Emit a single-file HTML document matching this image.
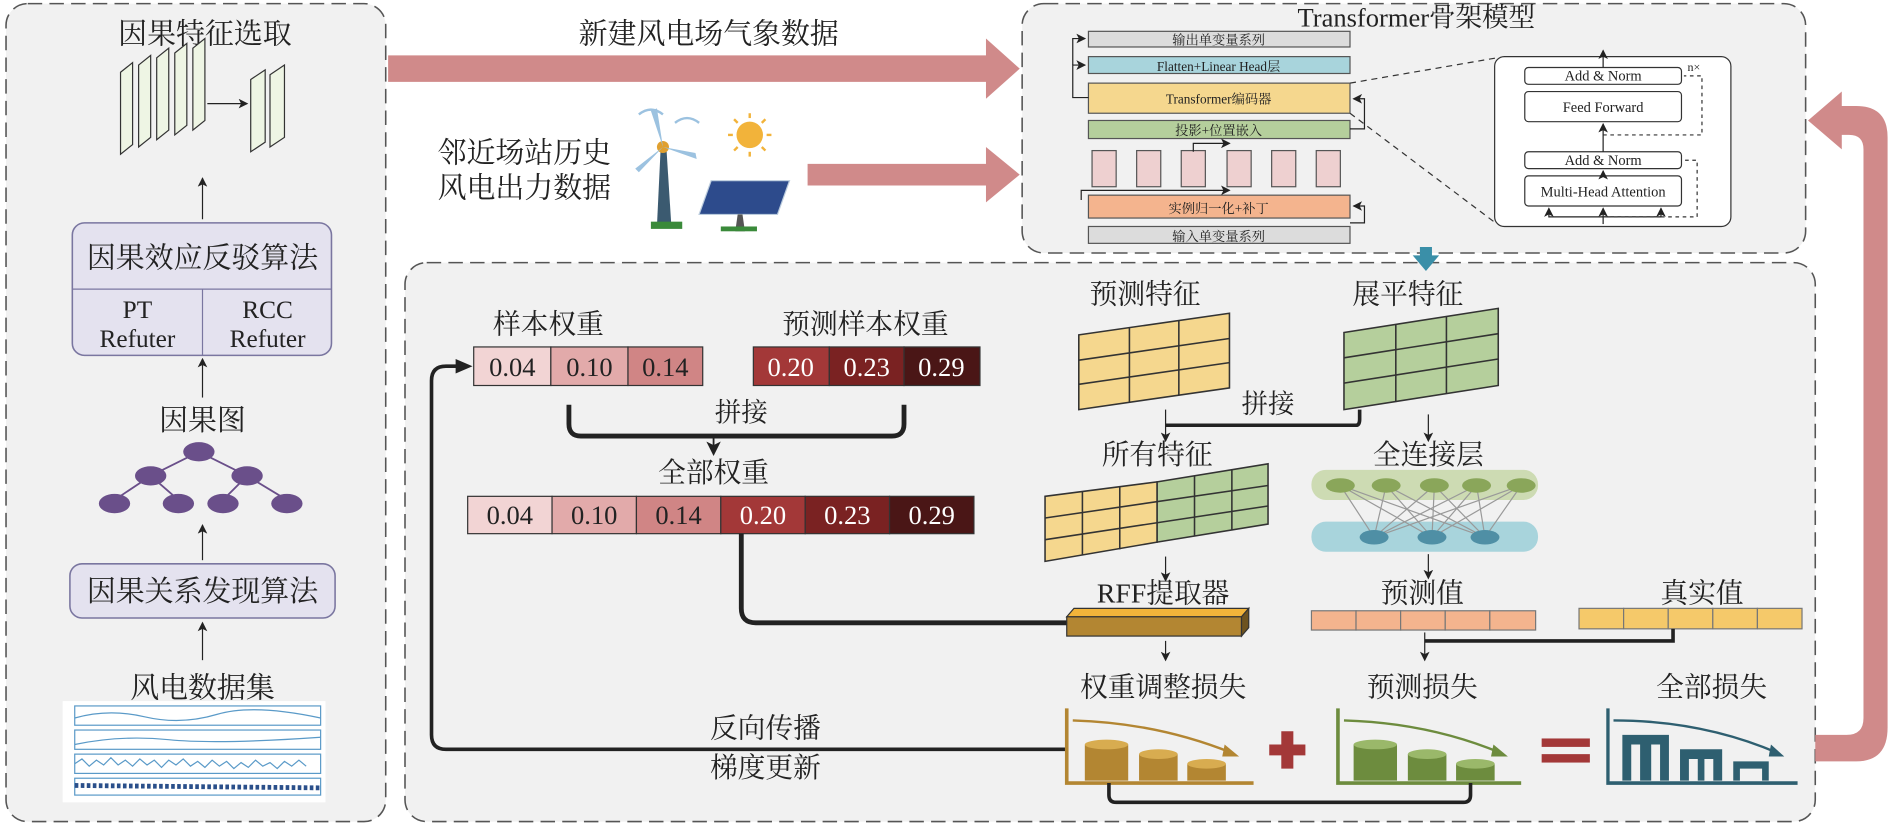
<!DOCTYPE html>
<html><head><meta charset="utf-8"><style>
body{margin:0;background:#fff}
svg{display:block}
text{font-family:"Liberation Serif","Noto Serif CJK SC","Noto Sans CJK SC",serif;fill:#222}
</style></head><body>
<svg width="1890" height="824" viewBox="0 0 1568 684" preserveAspectRatio="none" xmlns="http://www.w3.org/2000/svg">
<defs>
<marker id="a" markerWidth="8" markerHeight="8" refX="7" refY="4" orient="auto"><path d="M0,0 L8,4 L0,8 L2,4z" fill="#222"/></marker>
</defs>
<!-- panels -->
<rect x="5" y="3" width="315" height="679" rx="18" fill="#f1f1f1" stroke="#555" stroke-dasharray="12,6" stroke-width="1.3"/>
<rect x="848" y="3" width="650" height="207" rx="18" fill="#f1f1f1" stroke="#555" stroke-dasharray="12,6" stroke-width="1.3"/>
<rect x="336" y="218" width="1170" height="464" rx="18" fill="#f1f1f1" stroke="#555" stroke-dasharray="12,6" stroke-width="1.3"/>

<!-- pink arrows -->
<path d="M322,46 L818,46 L818,32 L846,57 L818,82 L818,68 L322,68z" fill="#d08a8a"/>
<path d="M670,136 L818,136 L818,122 L846,145 L818,168 L818,154 L670,154z" fill="#d08a8a"/>
<path d="M1506,610 L1532,610 Q1546,610 1546,596 L1546,124 Q1546,112 1534,112 L1528,112 L1528,124 L1500,100 L1528,76 L1528,88 L1540,88 Q1566,88 1566,114 L1566,604 Q1566,632 1540,632 L1506,632z" fill="#d08a8a"/>

<!-- left panel -->
<text x="170" y="36" font-size="24" text-anchor="middle">因果特征选取</text>
<g fill="#eef5e4" stroke="#333" stroke-width="1">
<path d="M100,60 L110,52 L110,120 L100,128z"/><path d="M115,54 L125,46 L125,114 L115,122z"/><path d="M130,48 L140,40 L140,108 L130,116z"/><path d="M145,44 L155,36 L155,104 L145,112z"/><path d="M160,40 L170,32 L170,100 L160,108z"/>
<path d="M208,66 L220,58 L220,118 L208,126z"/><path d="M224,62 L236,54 L236,114 L224,122z"/>
</g>
<line x1="172" y1="86" x2="205" y2="86" stroke="#222" marker-end="url(#a)"/>
<line x1="168" y1="182" x2="168" y2="148" stroke="#222" marker-end="url(#a)"/>
<rect x="60" y="185" width="215" height="110" rx="10" fill="#e4e2ef" stroke="#7a76a0" stroke-width="1.3"/>
<line x1="60" y1="240" x2="275" y2="240" stroke="#7a76a0"/><line x1="168" y1="240" x2="168" y2="295" stroke="#7a76a0"/>
<text x="168" y="222" font-size="24" text-anchor="middle">因果效应反驳算法</text>
<text x="114" y="264" font-size="21" text-anchor="middle">PT</text><text x="114" y="288" font-size="21" text-anchor="middle">Refuter</text>
<text x="222" y="264" font-size="21" text-anchor="middle">RCC</text><text x="222" y="288" font-size="21" text-anchor="middle">Refuter</text>
<line x1="168" y1="330" x2="168" y2="298" stroke="#222" marker-end="url(#a)"/>
<text x="168" y="357" font-size="24" text-anchor="middle">因果图</text>
<g stroke="#6a4f8a" stroke-width="1.5"><line x1="165" y1="375" x2="125" y2="395"/><line x1="165" y1="375" x2="205" y2="395"/><line x1="125" y1="395" x2="95" y2="415"/><line x1="125" y1="395" x2="148" y2="415"/><line x1="205" y1="395" x2="185" y2="415"/><line x1="205" y1="395" x2="238" y2="415"/></g>
<g fill="#6a4f8a"><ellipse cx="165" cy="375" rx="13" ry="8"/><ellipse cx="125" cy="395" rx="13" ry="8"/><ellipse cx="205" cy="395" rx="13" ry="8"/><ellipse cx="95" cy="418" rx="13" ry="8"/><ellipse cx="148" cy="418" rx="13" ry="8"/><ellipse cx="185" cy="418" rx="13" ry="8"/><ellipse cx="238" cy="418" rx="13" ry="8"/></g>
<line x1="168" y1="465" x2="168" y2="436" stroke="#222" marker-end="url(#a)"/>
<rect x="58" y="468" width="220" height="45" rx="10" fill="#e4e2ef" stroke="#7a76a0" stroke-width="1.3"/>
<text x="168" y="499" font-size="24" text-anchor="middle">因果关系发现算法</text>
<line x1="168" y1="548" x2="168" y2="517" stroke="#222" marker-end="url(#a)"/>
<text x="168" y="579" font-size="24" text-anchor="middle">风电数据集</text>
<rect x="52" y="582" width="218" height="84" fill="#fff"/>
<g fill="none" stroke="#5a9ac8" stroke-width="1"><rect x="62" y="586" width="204" height="16"/><rect x="62" y="606" width="204" height="16"/><rect x="62" y="626" width="204" height="16"/><rect x="62" y="646" width="204" height="14"/>
<path d="M62,596 Q90,588 120,595 T180,593 T266,596"/><path d="M62,618 Q100,610 140,614 T266,612"/><path d="M62,634 l6,-4 l6,6 l6,-5 l6,4 l6,-6 l6,6 l6,-4 l6,5 l6,-6 l6,5 l6,-4 l6,6 l6,-6 l6,4 l6,-5 l6,6 l6,-4 l6,5 l6,-6 l6,5 l6,-4 l6,6 l6,-5 l6,4 l6,-6 l6,5 l6,-3 l6,5 l6,-6 l6,4 l6,-5 l6,5"/></g>
<path d="M62,652 L266,654" stroke="#2a4f8a" stroke-width="4" stroke-dasharray="3,2"/>

<!-- middle texts -->
<text x="588" y="36" font-size="24" text-anchor="middle">新建风电场气象数据</text>
<text x="435" y="135" font-size="24" text-anchor="middle">邻近场站历史</text>
<text x="435" y="164" font-size="24" text-anchor="middle">风电出力数据</text>
<!-- turbine -->
<path d="M548,125 L545,188 L557,188 L553,125z" fill="#3b5a70"/>
<circle cx="550" cy="122" r="5" fill="#e0a030"/>
<path d="M550,122 L540,92 L545,90z M550,122 L578,132 L577,127z M550,122 L527,140 L530,143z" fill="#9cc2e0"/>
<path d="M530,95 q10,-8 20,0 M560,102 q10,-8 20,0" stroke="#9cc2e0" fill="none" stroke-width="2"/>
<rect x="540" y="184" width="26" height="6" fill="#3a8a3a"/>
<circle cx="622" cy="112" r="11" fill="#f2b33a"/>
<g stroke="#f2b33a" stroke-width="2"><line x1="622" y1="94" x2="622" y2="98"/><line x1="622" y1="126" x2="622" y2="130"/><line x1="604" y1="112" x2="608" y2="112"/><line x1="636" y1="112" x2="640" y2="112"/><line x1="609" y1="99" x2="612" y2="102"/><line x1="632" y1="122" x2="635" y2="125"/><line x1="635" y1="99" x2="632" y2="102"/><line x1="609" y1="125" x2="612" y2="122"/></g>
<path d="M590,150 L655,150 L645,178 L580,178z" fill="#2d4b8c" stroke="#bcd" stroke-width="1"/>
<path d="M612,178 L610,192 L618,192 L616,178z" fill="#555"/><rect x="598" y="188" width="30" height="4" fill="#3a8a3a"/>

<!-- transformer panel -->
<text x="1175" y="22" font-size="22" text-anchor="middle">Transformer骨架模型</text>
<g stroke="#555" stroke-width="1">
<rect x="903" y="26" width="217" height="13" fill="#dcdcdc"/>
<rect x="903" y="47" width="217" height="14" fill="#a8d4dc"/>
<rect x="903" y="69" width="217" height="25" fill="#f5d78e"/>
<rect x="903" y="100" width="217" height="15" fill="#b5cf9c"/>
<rect x="906" y="125" width="20" height="30" fill="#eed0d0"/><rect x="943" y="125" width="20" height="30" fill="#eed0d0"/><rect x="980" y="125" width="20" height="30" fill="#eed0d0"/><rect x="1018" y="125" width="20" height="30" fill="#eed0d0"/><rect x="1055" y="125" width="20" height="30" fill="#eed0d0"/><rect x="1092" y="125" width="20" height="30" fill="#eed0d0"/>
<rect x="903" y="162" width="217" height="19" fill="#f4b48e"/>
<rect x="903" y="188" width="217" height="14" fill="#dcdcdc"/>
</g>
<g font-size="11" text-anchor="middle"><text x="1011" y="37">输出单变量系列</text><text x="1011" y="59">Flatten+Linear Head层</text><text x="1011" y="86">Transformer编码器</text><text x="1011" y="112">投影+位置嵌入</text><text x="1011" y="177">实例归一化+补丁</text><text x="1011" y="200">输入单变量系列</text></g>
<g stroke="#222" fill="none" stroke-width="1">
<path d="M903,81 L890,81 L890,54 L900,54" marker-end="url(#a)"/><path d="M890,54 L890,32 L900,32" marker-end="url(#a)"/>
<path d="M1120,107 L1132,107 L1132,82 L1123,82" marker-end="url(#a)"/>
<path d="M1120,185 L1132,185 L1132,171 L1123,171" marker-end="url(#a)"/>
<path d="M897,166 L897,158 L1020,158" marker-end="url(#a)"/>
<path d="M990,126 L990,119 L1020,119" marker-end="url(#a)"/>
</g>
<g stroke="#333" stroke-dasharray="5,4" fill="none"><line x1="1120" y1="69" x2="1242" y2="48"/><line x1="1120" y1="94" x2="1242" y2="186"/></g>
<rect x="1240" y="47" width="196" height="141" rx="8" fill="#fff" stroke="#333"/>
<g stroke="#333" fill="#fff"><rect x="1265" y="56" width="130" height="14" rx="3"/><rect x="1265" y="76" width="130" height="25" rx="3"/><rect x="1265" y="126" width="130" height="14" rx="3"/><rect x="1265" y="146" width="130" height="25" rx="3"/></g>
<g font-size="12" text-anchor="middle"><text x="1330" y="67">Add &amp; Norm</text><text x="1330" y="93">Feed Forward</text><text x="1330" y="137">Add &amp; Norm</text><text x="1330" y="163">Multi-Head Attention</text></g>
<text x="1400" y="59" font-size="10">n×</text>
<g stroke="#222" fill="none"><line x1="1330" y1="126" x2="1330" y2="103" marker-end="url(#a)"/><line x1="1330" y1="146" x2="1330" y2="142" marker-end="url(#a)"/><line x1="1330" y1="56" x2="1330" y2="42" marker-end="url(#a)"/>
<line x1="1330" y1="186" x2="1330" y2="173" marker-end="url(#a)"/><path d="M1330,180 L1285,180 L1285,173" marker-end="url(#a)"/><path d="M1330,180 L1378,180 L1378,173" marker-end="url(#a)"/></g>
<g stroke="#333" stroke-dasharray="3,3" fill="none"><path d="M1330,180 L1408,180 L1408,133 L1397,133"/><path d="M1330,112 L1412,112 L1412,63 L1397,63"/></g>
<!-- teal arrow -->
<path d="M1178,205 L1188,205 L1188,212 L1194,212 L1183,225 L1172,212 L1178,212z" fill="#3a8fa8"/>

<!-- bottom panel: weights -->
<text x="455" y="277" font-size="23" text-anchor="middle">样本权重</text>
<text x="718" y="277" font-size="23" text-anchor="middle">预测样本权重</text>
<g stroke="#333"><rect x="393" y="288" width="64" height="32" fill="#f2d4d4"/><rect x="457" y="288" width="64" height="32" fill="#e2aaaa"/><rect x="521" y="288" width="62" height="32" fill="#d08585"/>
<rect x="625" y="288" width="63" height="32" fill="#a33838"/><rect x="688" y="288" width="62" height="32" fill="#7a2222"/><rect x="750" y="288" width="63" height="32" fill="#4a1616"/></g>
<g font-size="22" text-anchor="middle"><text x="425" y="312">0.04</text><text x="489" y="312">0.10</text><text x="552" y="312">0.14</text><text x="656" y="312" style="fill:#fff">0.20</text><text x="719" y="312" style="fill:#fff">0.23</text><text x="781" y="312" style="fill:#fff">0.29</text></g>
<path d="M472,336 L472,352 Q472,362 482,362 L740,362 Q750,362 750,352 L750,336" stroke="#222" stroke-width="4" fill="none"/>
<text x="615" y="350" font-size="22" text-anchor="middle">拼接</text>
<line x1="592" y1="362" x2="592" y2="377" stroke="#222" stroke-width="1.5" marker-end="url(#a)"/>
<text x="592" y="400" font-size="23" text-anchor="middle">全部权重</text>
<g stroke="#333"><rect x="388" y="412" width="70" height="31" fill="#f2d4d4"/><rect x="458" y="412" width="70" height="31" fill="#e2aaaa"/><rect x="528" y="412" width="70" height="31" fill="#d08585"/><rect x="598" y="412" width="70" height="31" fill="#a33838"/><rect x="668" y="412" width="70" height="31" fill="#7a2222"/><rect x="738" y="412" width="70" height="31" fill="#4a1616"/></g>
<g font-size="22" text-anchor="middle"><text x="423" y="435">0.04</text><text x="493" y="435">0.10</text><text x="563" y="435">0.14</text><text x="633" y="435" style="fill:#fff">0.20</text><text x="703" y="435" style="fill:#fff">0.23</text><text x="773" y="435" style="fill:#fff">0.29</text></g>
<path d="M615,443 L615,505 Q615,517 627,517 L885,517" stroke="#222" stroke-width="4" fill="none"/>
<path d="M885,622 L370,622 Q358,622 358,610 L358,316 Q358,304 370,304 L385,304" stroke="#222" stroke-width="3" fill="none"/>
<path d="M378,298 L392,304 L378,310z" fill="#222"/>
<text x="635" y="612" font-size="23" text-anchor="middle">反向传播</text>
<text x="635" y="645" font-size="23" text-anchor="middle">梯度更新</text>

<!-- features -->
<text x="950" y="252" font-size="23" text-anchor="middle">预测特征</text>
<text x="1168" y="252" font-size="23" text-anchor="middle">展平特征</text>
<g stroke="#333" stroke-width="1.3">
<path d="M895,278 L1020,260 L1020,322 L895,340z" fill="#f5d78e"/>
<path d="M937,272 L937,334 M978,266 L978,328 M895,299 L1020,281 M895,319 L1020,301" fill="none"/>
<path d="M1115,276 L1243,256 L1243,320 L1115,340z" fill="#b5cf9c"/>
<path d="M1158,269 L1158,333 M1200,263 L1200,327 M1115,297 L1243,277 M1115,318 L1243,298" fill="none"/>
</g>
<path d="M967,353 L1125,353 Q1128,353 1128,348 L1128,340" stroke="#222" stroke-width="3" fill="none"/>
<text x="1052" y="343" font-size="22" text-anchor="middle">拼接</text>
<line x1="967" y1="340" x2="967" y2="366" stroke="#222" marker-end="url(#a)"/>
<line x1="1185" y1="344" x2="1185" y2="366" stroke="#222" marker-end="url(#a)"/>
<text x="960" y="385" font-size="23" text-anchor="middle">所有特征</text>
<g stroke="#333" stroke-width="1.3">
<path d="M867,412 L960,400 L960,450 L867,466z" fill="#f5d78e"/>
<path d="M960,400 L1052,385 L1052,435 L960,450z" fill="#b5cf9c"/>
<path d="M898,408 L898,461 M929,404 L929,456 M991,395 L991,445 M1022,390 L1022,440 M867,430 L1052,403 M867,448 L1052,420" fill="none"/>
</g>
<line x1="967" y1="462" x2="967" y2="482" stroke="#222" marker-end="url(#a)"/>
<text x="965" y="500" font-size="23" text-anchor="middle">RFF提取器</text>
<path d="M885,512 L891,505 L1036,505 L1030,512z" fill="#f2b43a" stroke="#333"/>
<rect x="885" y="512" width="145" height="16" fill="#b38632" stroke="#333"/>
<path d="M1030,512 L1036,505 L1036,521 L1030,528z" fill="#6d5320" stroke="#333"/>
<line x1="967" y1="532" x2="967" y2="548" stroke="#222" marker-end="url(#a)"/>
<text x="965" y="578" font-size="23" text-anchor="middle">权重调整损失</text>

<!-- FC -->
<text x="1185" y="385" font-size="23" text-anchor="middle">全连接层</text>
<rect x="1088" y="390" width="188" height="25" rx="12" fill="#cddbb3"/>
<rect x="1088" y="433" width="188" height="25" rx="12" fill="#a8d4dc"/>
<g stroke="#999" stroke-width="1"><path d="M1112,403 L1140,446 M1112,403 L1188,446 M1112,403 L1232,446 M1150,403 L1140,446 M1150,403 L1188,446 M1150,403 L1232,446 M1190,403 L1140,446 M1190,403 L1188,446 M1190,403 L1232,446 M1225,403 L1140,446 M1225,403 L1188,446 M1225,403 L1232,446 M1262,403 L1140,446 M1262,403 L1188,446 M1262,403 L1232,446"/></g>
<g fill="#8aa65a"><ellipse cx="1112" cy="403" rx="12" ry="6"/><ellipse cx="1150" cy="403" rx="12" ry="6"/><ellipse cx="1190" cy="403" rx="12" ry="6"/><ellipse cx="1225" cy="403" rx="12" ry="6"/><ellipse cx="1262" cy="403" rx="12" ry="6"/></g>
<g fill="#4f8fa5"><ellipse cx="1140" cy="446" rx="12" ry="6"/><ellipse cx="1188" cy="446" rx="12" ry="6"/><ellipse cx="1232" cy="446" rx="12" ry="6"/></g>
<line x1="1185" y1="460" x2="1185" y2="480" stroke="#222" marker-end="url(#a)"/>
<text x="1180" y="500" font-size="23" text-anchor="middle">预测值</text>
<text x="1412" y="500" font-size="23" text-anchor="middle">真实值</text>
<g stroke="#777"><rect x="1088" y="507" width="37" height="16" fill="#f4b48e"/><rect x="1125" y="507" width="37" height="16" fill="#f4b48e"/><rect x="1162" y="507" width="37" height="16" fill="#f4b48e"/><rect x="1199" y="507" width="37" height="16" fill="#f4b48e"/><rect x="1236" y="507" width="38" height="16" fill="#f4b48e"/>
<rect x="1310" y="505" width="37" height="17" fill="#f5c96a"/><rect x="1347" y="505" width="37" height="17" fill="#f5c96a"/><rect x="1384" y="505" width="37" height="17" fill="#f5c96a"/><rect x="1421" y="505" width="37" height="17" fill="#f5c96a"/><rect x="1458" y="505" width="37" height="17" fill="#f5c96a"/></g>
<path d="M1388,522 L1388,532 L1182,532" stroke="#222" stroke-width="3" fill="none"/>
<line x1="1182" y1="525" x2="1182" y2="548" stroke="#222" marker-end="url(#a)"/>
<text x="1180" y="578" font-size="23" text-anchor="middle">预测损失</text>
<text x="1420" y="578" font-size="23" text-anchor="middle">全部损失</text>

<!-- loss charts -->
<g>
<path d="M885,588 L885,650 L1040,650" stroke="#b38632" stroke-width="3" fill="none"/>
<path d="M890,598 Q960,600 1022,625" stroke="#b38632" stroke-width="2" fill="none"/><path d="M1016,618 L1028,628 L1014,628z" fill="#b38632"/>
<rect x="900" y="618" width="36" height="30" fill="#b38632"/><ellipse cx="918" cy="618" rx="18" ry="4" fill="#d8ac50"/>
<rect x="945" y="626" width="32" height="22" fill="#b38632"/><ellipse cx="961" cy="626" rx="16" ry="4" fill="#d8ac50"/>
<rect x="985" y="634" width="32" height="14" fill="#b38632"/><ellipse cx="1001" cy="634" rx="16" ry="4" fill="#d8ac50"/>
</g>
<path d="M1053,618 L1063,618 L1063,607 L1073,607 L1073,618 L1083,618 L1083,627 L1073,627 L1073,638 L1063,638 L1063,627 L1053,627z" fill="#a33838"/>
<g>
<path d="M1110,588 L1110,650 L1262,650" stroke="#6d8c3e" stroke-width="3" fill="none"/>
<path d="M1115,598 Q1185,600 1245,625" stroke="#6d8c3e" stroke-width="2" fill="none"/><path d="M1239,618 L1251,628 L1237,628z" fill="#6d8c3e"/>
<rect x="1123" y="618" width="36" height="30" fill="#6d8c3e"/><ellipse cx="1141" cy="618" rx="18" ry="4" fill="#9ab86a"/>
<rect x="1168" y="626" width="32" height="22" fill="#6d8c3e"/><ellipse cx="1184" cy="626" rx="16" ry="4" fill="#9ab86a"/>
<rect x="1208" y="634" width="32" height="14" fill="#6d8c3e"/><ellipse cx="1224" cy="634" rx="16" ry="4" fill="#9ab86a"/>
</g>
<rect x="1279" y="613" width="40" height="7" fill="#a33838"/><rect x="1279" y="626" width="40" height="7" fill="#a33838"/>
<g transform="translate(1334,0) scale(0.92,1) translate(-1305,0)">
<path d="M1305,588 L1305,650 L1476,650" stroke="#2e5f70" stroke-width="3" fill="none"/>
<path d="M1310,598 Q1390,598 1458,625" stroke="#2e5f70" stroke-width="2" fill="none"/><path d="M1452,618 L1464,628 L1450,628z" fill="#2e5f70"/>
<path d="M1318,648 L1318,610 L1360,610 L1360,648 L1352,648 L1352,618 L1344,618 L1344,648 L1334,648 L1334,618 L1326,618 L1326,648z" fill="#2e5f70"/>
<path d="M1370,648 L1370,622 L1408,622 L1408,648 L1400,648 L1400,630 L1392,630 L1392,648 L1386,648 L1386,630 L1378,630 L1378,648z" fill="#2e5f70"/>
<path d="M1418,648 L1418,632 L1450,632 L1450,648 L1444,648 L1444,638 L1424,638 L1424,648z" fill="#2e5f70"/>
</g>
<path d="M920,650 L920,660 Q920,666 926,666 L1214,666 Q1220,666 1220,660 L1220,650" stroke="#222" stroke-width="3" fill="none"/>
</svg>
</body></html>
